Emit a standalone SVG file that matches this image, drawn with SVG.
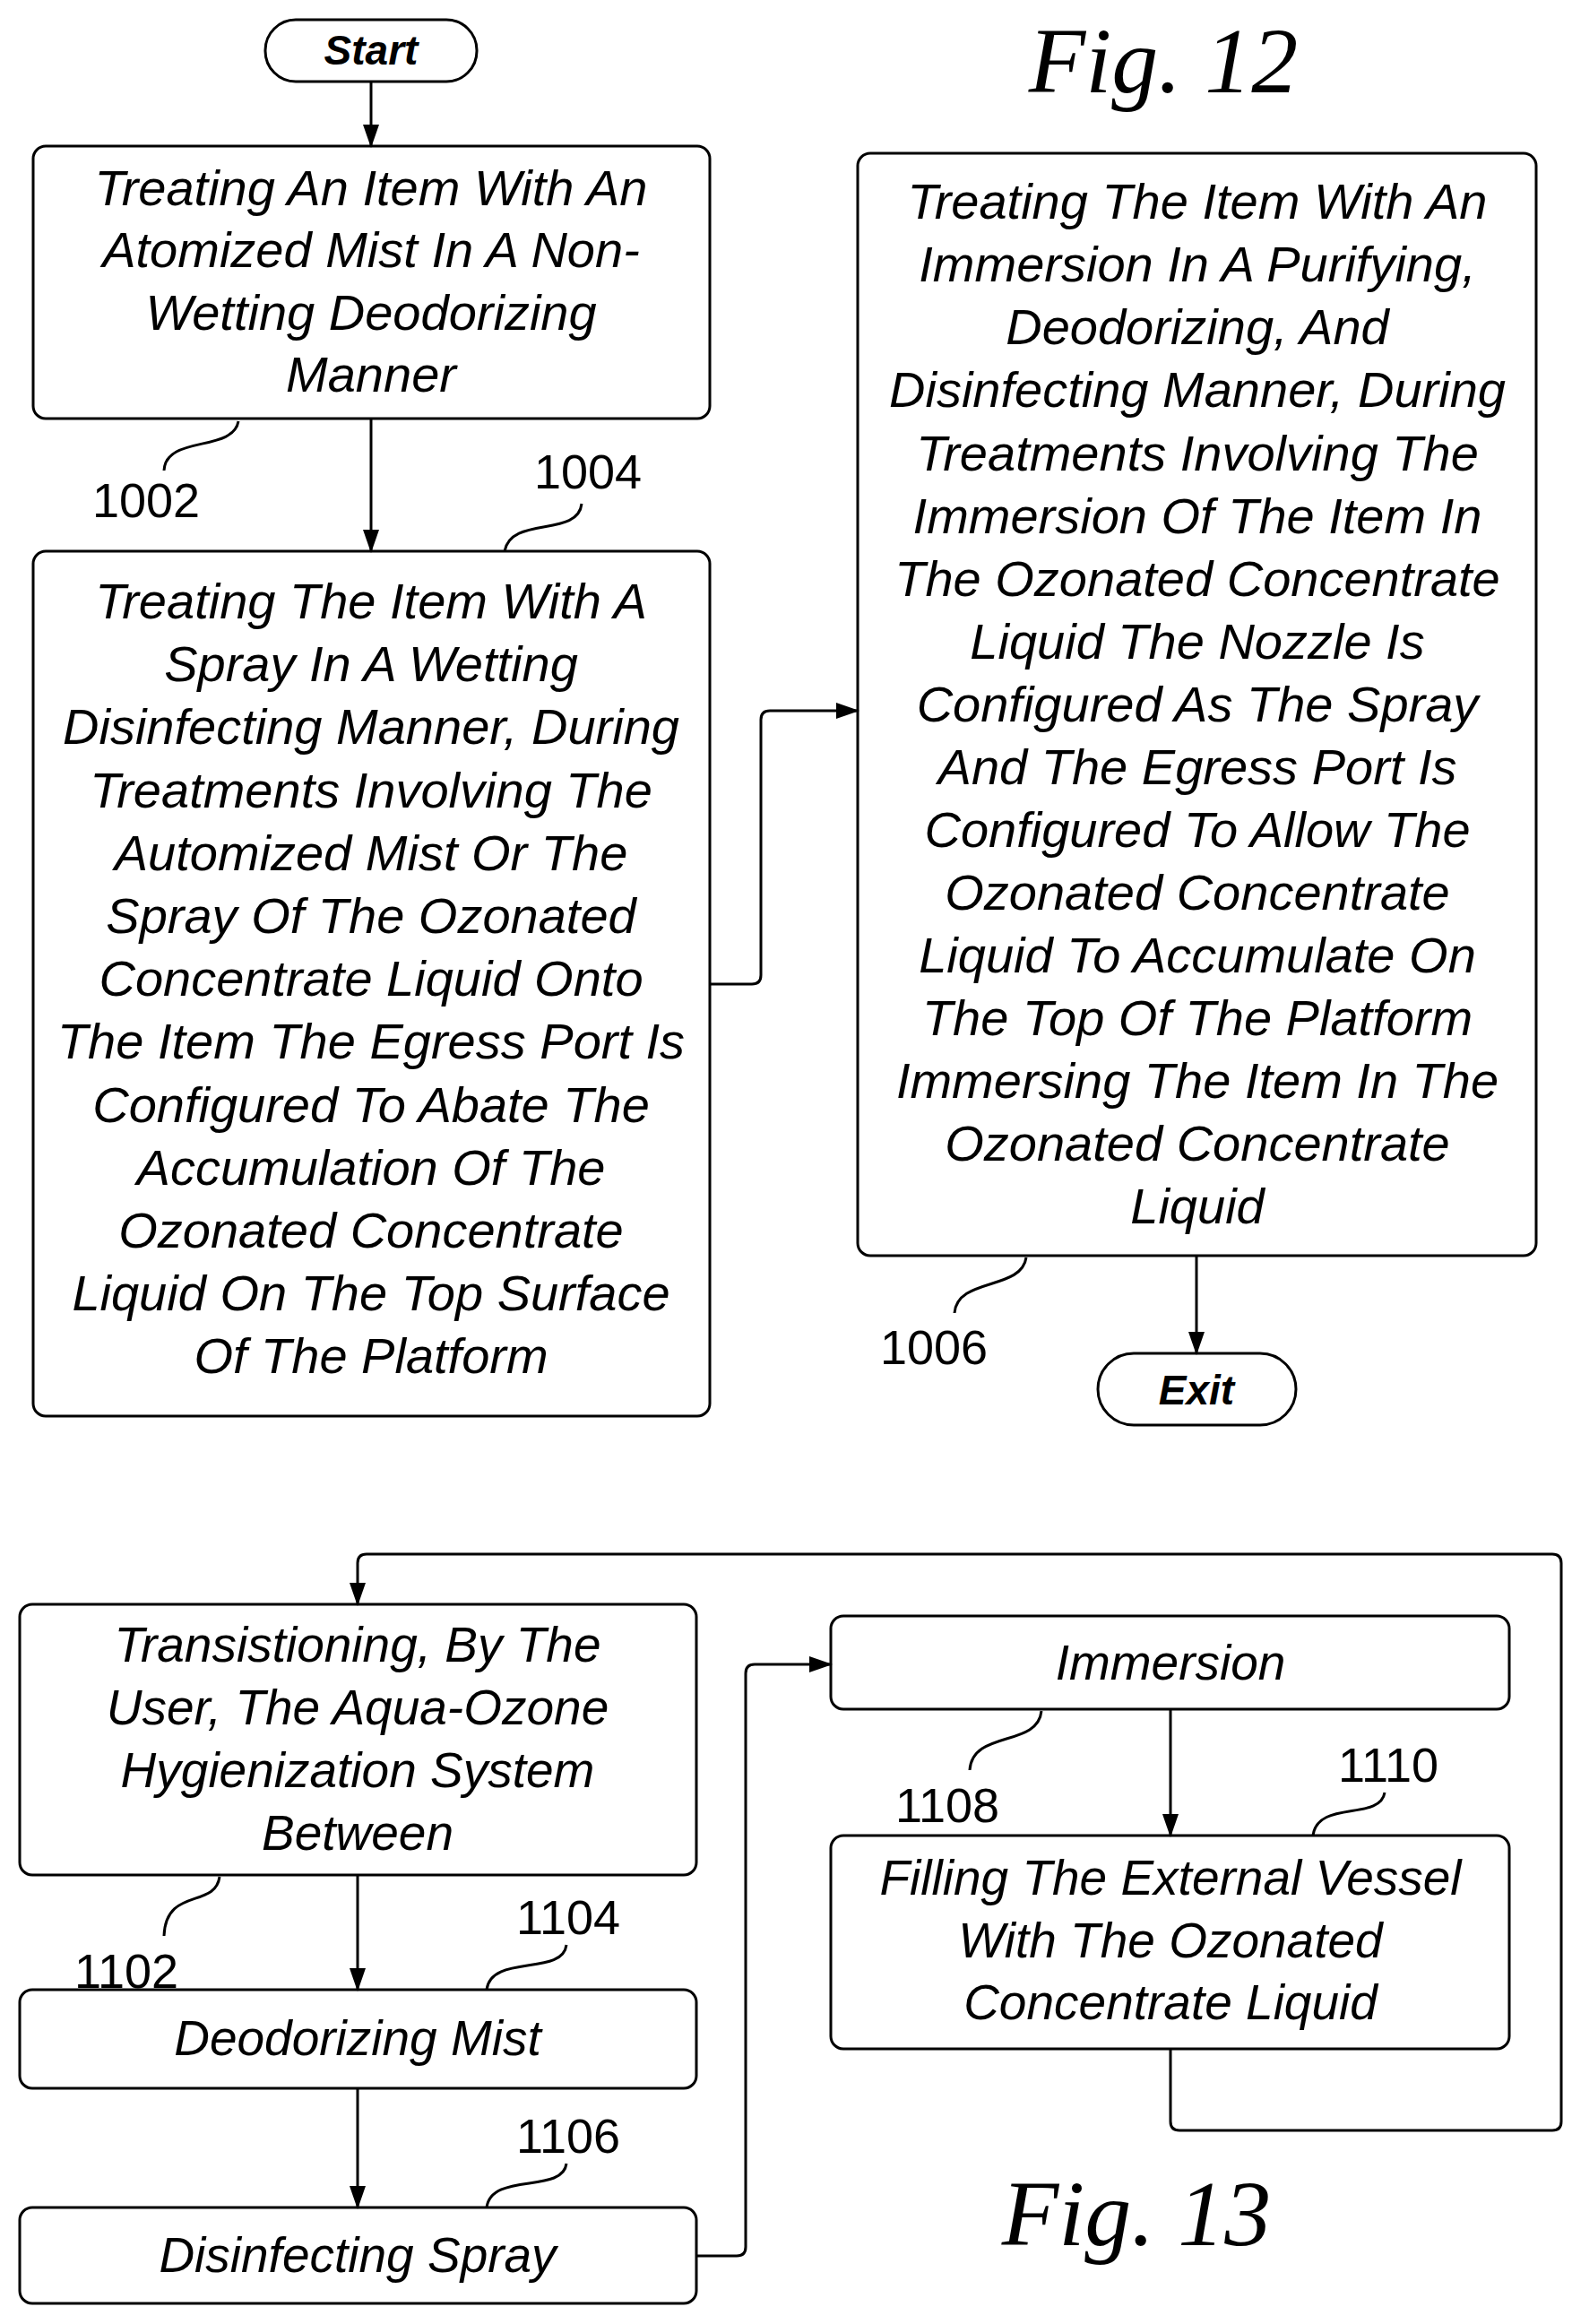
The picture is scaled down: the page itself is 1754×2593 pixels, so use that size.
<svg xmlns="http://www.w3.org/2000/svg" width="1754" height="2593" viewBox="0 0 1754 2593">
<style>
.b{fill:#fff;stroke:#000;stroke-width:3}
.t{font-family:"Liberation Sans",Arial,sans-serif;font-style:italic;font-size:56px;text-anchor:middle}
.n{font-family:"Liberation Sans Narrow","Liberation Sans",sans-serif;font-style:italic;font-size:55px;text-anchor:middle}
.s{font-family:"Liberation Sans",Arial,sans-serif;font-style:italic;font-weight:bold;font-size:46px;text-anchor:middle}
.l{font-family:"Liberation Sans",Arial,sans-serif;font-size:54px}
.f{font-family:"Liberation Serif","Times New Roman",serif;font-style:italic;font-size:104px;text-anchor:middle}
.c{fill:none;stroke:#000;stroke-width:3}
</style>
<defs><marker id="A" markerWidth="26" markerHeight="26" refX="24" refY="13" orient="auto" markerUnits="userSpaceOnUse"><path d="M0,4L26,13L0,22z"/></marker></defs>
<text class="f" x="1298" y="103">Fig. 12</text>
<text class="f" x="1268" y="2505">Fig. 13</text>
<g id="start"><rect class="b" x="296" y="22" width="236" height="69" rx="34"/><text class="s" x="414" y="72">Start</text></g>
<g id="n1002"><rect class="b" x="37" y="163" width="755" height="304" rx="14"/>
<text class="t" x="414" y="229">Treating An Item With An</text><text class="t" x="414" y="298">Atomized Mist In A Non-</text><text class="t" x="414" y="368">Wetting Deodorizing</text><text class="t" x="414" y="437">Manner</text></g>
<g id="n1004"><rect class="b" x="37" y="615" width="755" height="965" rx="14"/>
<text class="t" x="414" y="690">Treating The Item With A</text>
<text class="t" x="414" y="760">Spray In A Wetting</text>
<text class="t" x="414" y="830">Disinfecting Manner, During</text>
<text class="t" x="414" y="901">Treatments Involving The</text>
<text class="t" x="414" y="971">Automized Mist Or The</text>
<text class="t" x="414" y="1041">Spray Of The Ozonated</text>
<text class="t" x="414" y="1111">Concentrate Liquid Onto</text>
<text class="t" x="414" y="1181">The Item The Egress Port Is</text>
<text class="t" x="414" y="1252">Configured To Abate The</text>
<text class="t" x="414" y="1322">Accumulation Of The</text>
<text class="t" x="414" y="1392">Ozonated Concentrate</text>
<text class="t" x="414" y="1462">Liquid On The Top Surface</text>
<text class="t" x="414" y="1532">Of The Platform</text></g>
<g id="n1006"><rect class="b" x="957" y="171" width="757" height="1230" rx="14"/>
<text class="t" x="1336" y="244">Treating The Item With An</text>
<text class="t" x="1336" y="314">Immersion In A Purifying,</text>
<text class="t" x="1336" y="384">Deodorizing, And</text>
<text class="t" x="1336" y="454">Disinfecting Manner, During</text>
<text class="t" x="1336" y="525">Treatments Involving The</text>
<text class="t" x="1336" y="595">Immersion Of The Item In</text>
<text class="t" x="1336" y="665">The Ozonated Concentrate</text>
<text class="t" x="1336" y="735">Liquid The Nozzle Is</text>
<text class="t" x="1336" y="805">Configured As The Spray</text>
<text class="t" x="1336" y="875">And The Egress Port Is</text>
<text class="t" x="1336" y="945">Configured To Allow The</text>
<text class="t" x="1336" y="1015">Ozonated Concentrate</text>
<text class="t" x="1336" y="1085">Liquid To Accumulate On</text>
<text class="t" x="1336" y="1155">The Top Of The Platform</text>
<text class="t" x="1336" y="1225">Immersing The Item In The</text>
<text class="t" x="1336" y="1295">Ozonated Concentrate</text>
<text class="t" x="1336" y="1365">Liquid</text></g>
<g id="exit"><rect class="b" x="1225" y="1510" width="221" height="80" rx="40"/><text class="s" x="1335" y="1567">Exit</text></g>
<g id="n1102"><rect class="b" x="22" y="1790" width="755" height="302" rx="14"/>
<text class="n" x="399" y="1854">Transistioning, By The</text><text class="n" x="399" y="1924">User, The Aqua-Ozone</text><text class="n" x="399" y="1994">Hygienization System</text><text class="n" x="399" y="2064">Between</text></g>
<g id="n1104"><rect class="b" x="22" y="2220" width="755" height="110" rx="14"/><text class="n" x="399" y="2293">Deodorizing Mist</text></g>
<g id="n1106"><rect class="b" x="22" y="2463" width="755" height="107" rx="14"/><text class="n" x="399" y="2535">Disinfecting Spray</text></g>
<g id="n1108"><rect class="b" x="927" y="1803" width="757" height="104" rx="14"/><text class="n" x="1306" y="1874">Immersion</text></g>
<g id="n1110"><rect class="b" x="927" y="2048" width="757" height="238" rx="14"/>
<text class="n" x="1306" y="2114">Filling The External Vessel</text><text class="n" x="1306" y="2184">With The Ozonated</text><text class="n" x="1306" y="2253">Concentrate Liquid</text></g>
<g id="labels">
<text class="l" x="103" y="577">1002</text><text class="l" x="596" y="545">1004</text><text class="l" x="982" y="1522">1006</text>
<text class="l" x="83" y="2218">1102</text><text class="l" x="576" y="2158">1104</text><text class="l" x="576" y="2402">1106</text>
<text class="l" x="999" y="2033">1108</text><text class="l" x="1493" y="1988">1110</text>
</g>
<g id="connectors">
<path class="c" d="M266,470C260,505 185,485 183,525"/>
<path class="c" d="M563,615C570,575 645,600 649,562"/>
<path class="c" d="M1145,1403C1140,1440 1068,1425 1065,1465"/>
<path class="c" d="M245,2094C240,2130 185,2105 183,2160"/>
<path class="c" d="M543,2220C548,2180 628,2205 632,2170"/>
<path class="c" d="M543,2463C548,2423 628,2448 632,2414"/>
<path class="c" d="M1162,1909C1158,1950 1085,1930 1082,1975"/>
<path class="c" d="M1465,2048C1470,2008 1540,2032 1545,2000"/>
<path class="c" marker-end="url(#A)" d="M414,91V163"/>
<path class="c" marker-end="url(#A)" d="M414,467V615"/>
<path class="c" marker-end="url(#A)" d="M792,1098H839Q849,1098 849,1088V803Q849,793 859,793H957"/>
<path class="c" marker-end="url(#A)" d="M1335,1401V1510"/>
<path class="c" marker-end="url(#A)" d="M399,2092V2220"/>
<path class="c" marker-end="url(#A)" d="M399,2330V2463"/>
<path class="c" marker-end="url(#A)" d="M1306,1907V2048"/>
<path class="c" marker-end="url(#A)" d="M777,2517H822Q832,2517 832,2507V1867Q832,1857 842,1857H927"/>
<path class="c" marker-end="url(#A)" d="M1306,2286V2367Q1306,2377 1316,2377H1732Q1742,2377 1742,2367V1744Q1742,1734 1732,1734H409Q399,1734 399,1744V1790"/>
</g>
</svg>
